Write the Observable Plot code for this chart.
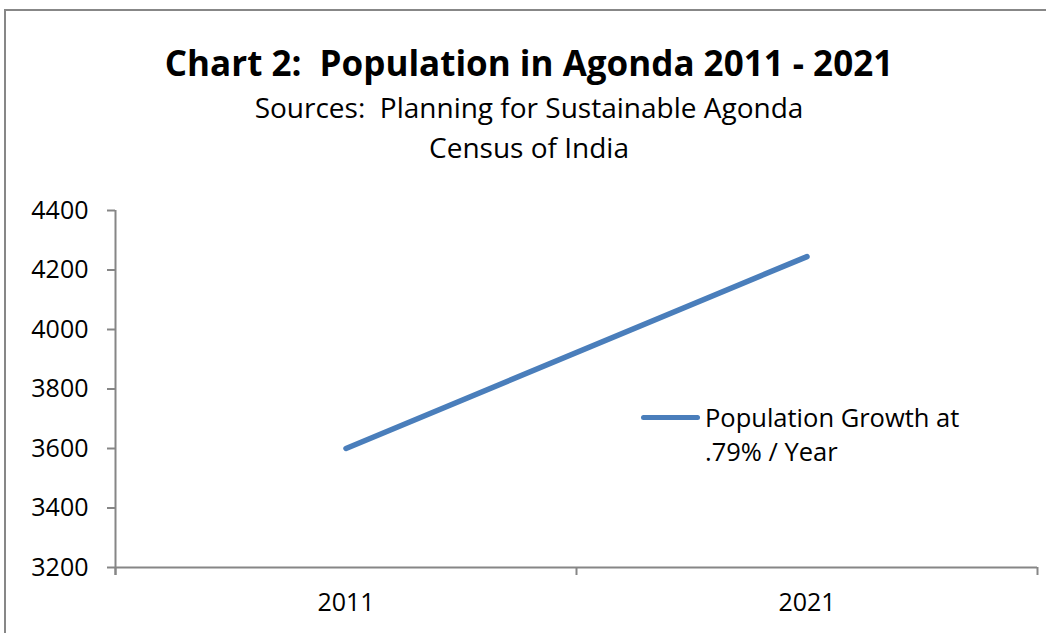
<!DOCTYPE html>
<html><head><meta charset="utf-8">
<script src="https://cdn.jsdelivr.net/npm/d3@7"></script>
<script src="https://cdn.jsdelivr.net/npm/@observablehq/plot@0.6"></script>
<style>
body{margin:0;background:#fff;}
#wrap{position:relative;width:1046px;height:633px;overflow:hidden;font-family:"Open Sans",sans-serif;color:#000;}
#frame{position:absolute;left:4px;top:9px;width:1100px;height:700px;border-left:2px solid #878787;border-top:2px solid #878787;box-sizing:border-box;}
.t{position:absolute;left:0;width:1058px;text-align:center;white-space:pre;line-height:1;}
#chart{position:absolute;left:0;top:0;}
#legend{position:absolute;left:641px;top:400px;}
#legend .sw{position:absolute;left:0;top:14.5px;width:59px;height:5px;border-radius:3px;background:#4A7EBB;}
#legend .lt{position:absolute;left:64px;top:0;font-size:25.5px;line-height:34px;white-space:nowrap;}
</style></head><body>
<div id="wrap">
<div id="frame"></div>
<div id="chart"></div>
<div class="t" id="title" style="top:45px;font-weight:bold;font-size:35px">Chart 2:  Population in Agonda 2011 - 2021</div>
<div class="t" id="sub1" style="top:93px;font-size:28px">Sources:  Planning for Sustainable Agonda</div>
<div class="t" id="sub2" style="top:133px;font-size:28px">Census of India</div>
<div id="legend"><div class="sw"></div><div class="lt">Population Growth at<br>.79% / Year</div></div>
</div>
<script>
const years = ["2011", "2021"];
const population = [3600, 4245];
const yTicks = [3200, 3400, 3600, 3800, 4000, 4200, 4400];
const seriesName = "Population Growth at .79% / Year";

const data = years.map((y, i) => ({year: y, pos: i + 0.5, pop: population[i]}));
const axisColor = "#868686";

const chart = Plot.plot({
  width: 1046,
  height: 633,
  marginTop: 210,
  marginBottom: 66,
  marginLeft: 115,
  marginRight: 9,
  style: {background: "transparent", fontFamily: "'Open Sans', sans-serif", color: "#000"},
  x: {domain: [0, years.length]},
  y: {domain: [3200, 4400]},
  marks: [
    Plot.axisY({ticks: yTicks, tickSize: 8, tickPadding: 19, tickFormat: d => String(d), stroke: axisColor, strokeWidth: 2, fill: "#000", fontSize: 25, label: null}),
    Plot.axisX({ticks: d3.range(years.length + 1), tickSize: 8, tickFormat: () => "", stroke: axisColor, strokeWidth: 2, label: null}),
    Plot.axisX({ticks: years.map((_, i) => i + 0.5), tickSize: 0, tickPadding: 26, tickFormat: d => years[Math.floor(d)], fill: "#000", fontSize: 25, label: null}),
    Plot.ruleX([0], {stroke: axisColor, strokeWidth: 2, insetBottom: -8}),
    Plot.ruleY([3200], {stroke: axisColor, strokeWidth: 2}),
    Plot.line(data, {x: "pos", y: "pop", stroke: "#4A7EBB", strokeWidth: 5.5, strokeLinecap: "round"})
  ]
});
document.getElementById("chart").appendChild(chart);
</script>
</body></html>
